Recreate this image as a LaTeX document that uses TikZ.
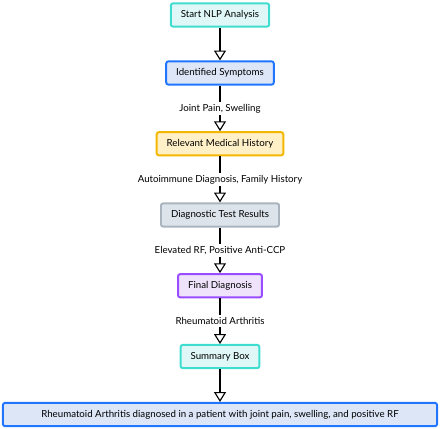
\documentclass[tikz,border=0pt]{standalone}
\usepackage{fontspec}
\setmainfont{Lato}
\usetikzlibrary{arrows.meta,positioning}

\definecolor{tealline}{HTML}{3EDDD0}
\definecolor{tealfill}{HTML}{E0F7F7}
\definecolor{blueline}{HTML}{2176FF}
\definecolor{bluefill}{HTML}{DCE6F7}
\definecolor{goldline}{HTML}{F5B800}
\definecolor{goldfill}{HTML}{FFF0C8}
\definecolor{grayline}{HTML}{A9B4BE}
\definecolor{grayfill}{HTML}{DDE3EA}
\definecolor{purpline}{HTML}{9A4DFF}
\definecolor{purpfill}{HTML}{EEE3FA}

\begin{document}
\begin{tikzpicture}[x=0.025cm,y=-0.025cm,
  font=\fontsize{6.9}{8}\selectfont,
  block/.style={draw,rectangle,line width=1.4pt,rounded corners=1.5pt,
    minimum height=0.58cm,inner xsep=0.25cm,node distance=0.82cm},
  tealbox/.style={block,draw=tealline,fill=tealfill},
  bluebox/.style={block,draw=blueline,fill=bluefill},
  goldbox/.style={block,draw=goldline,fill=goldfill},
  graybox/.style={block,draw=grayline,fill=grayfill},
  purpbox/.style={block,draw=purpline,fill=purpfill},
  link/.style={line width=0.8pt,-{Triangle[open,length=7pt,width=8.5pt]}},
  tag/.style={fill=white,inner sep=1.5pt}]

        \useasboundingbox (0,0) rectangle (440,428);

        \node[tealbox] (start) at (220,15) {Start NLP Analysis};
        \node[bluebox] (symp) [below = of start] {Identified Symptoms};
        \node[goldbox] (hist) [below = 1.14cm of symp] {Relevant Medical History};
        \node[graybox] (test) [below = 1.15cm of hist] {Diagnostic Test Results};
        \node[purpbox] (diag) [below = 1.14cm of test] {Final Diagnosis};
        \node[tealbox] (summ) [below = 1.14cm of diag] {Summary Box};
        \node[bluebox,minimum width=10.85cm] (note) [below = of summ]
          {Rheumatoid Arthritis diagnosed in a patient with joint pain, swelling, and positive RF};

        \draw[link] (start) -- (symp);
        \draw[link] (symp) -- node[tag] {Joint Pain, Swelling} (hist);
        \draw[link] (hist) -- node[tag] {Autoimmune Diagnosis, Family History} (test);
        \draw[link] (test) -- node[tag] {Elevated RF, Positive Anti-CCP} (diag);
        \draw[link] (diag) -- node[tag] {Rheumatoid Arthritis} (summ);
        \draw[link] (summ) -- (note);
      \end{tikzpicture}
\end{document}
